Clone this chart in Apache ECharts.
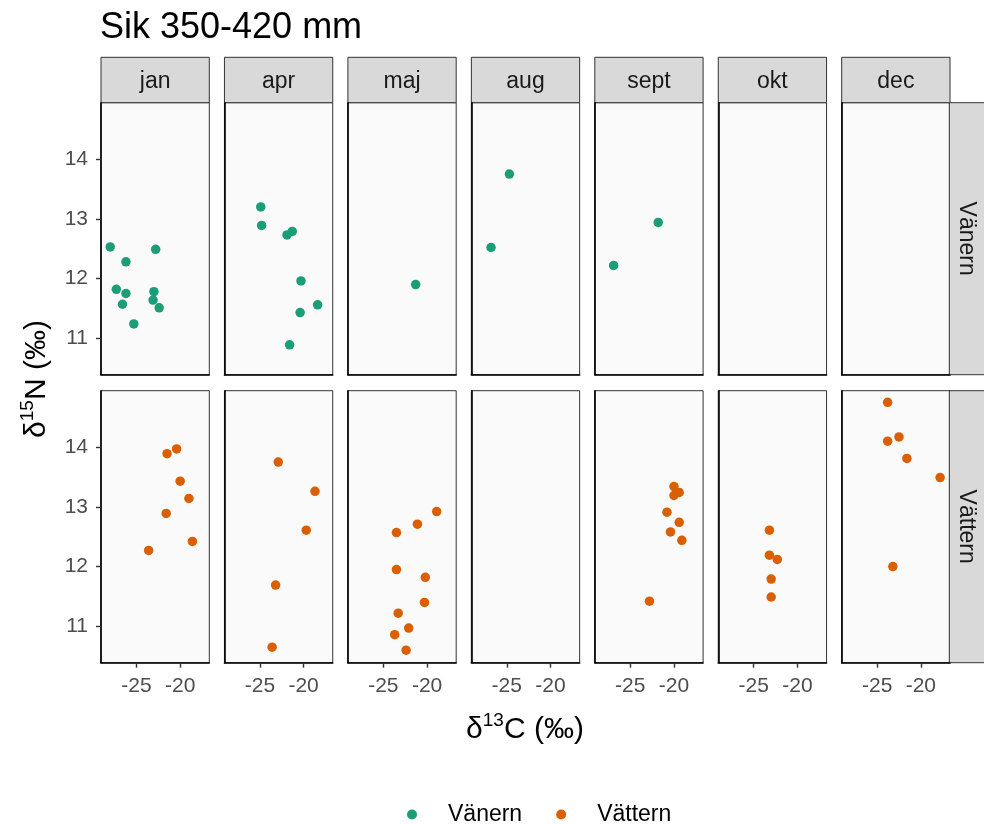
<!DOCTYPE html>
<html>
<head>
<meta charset="utf-8">
<script src="https://cdn.jsdelivr.net/npm/echarts@6/dist/echarts.min.js"></script>
<style>
html, body { margin: 0; padding: 0; background: #ffffff; }
#chart { width: 984px; height: 825px; }
</style>
</head>
<body>
<div id="chart"></div>
<script>
// Facet labels
const months = ['jan', 'apr', 'maj', 'aug', 'sept', 'okt', 'dec'];
const lakes = ['Vänern', 'Vättern'];
const lakeColors = ['#1B9E77', '#D95F02'];

// Tick labels
const xTicks = [-25, -20];
const yTicks = [11, 12, 13, 14];

// Axis ranges (δ13C, δ15N)
const xRange = [-29.05, -16.67];
const yRange = [10.39, 14.945];

// Vänern: [δ13C, δ15N]
const vanernJan = [[-28.0, 12.53], [-26.2, 12.28], [-27.3, 11.82], [-26.2, 11.75], [-26.6, 11.57],
  [-25.3, 11.24], [-22.8, 12.49], [-23.0, 11.78], [-23.1, 11.64], [-22.4, 11.51]];
const vanernApr = [[-24.9, 13.20], [-24.8, 12.89], [-21.9, 12.73], [-21.3, 12.79], [-20.3, 11.96],
  [-18.4, 11.56], [-20.4, 11.43], [-21.6, 10.89]];
const vanernMaj = [[-21.3, 11.90]];
const vanernAug = [[-24.7, 13.75], [-26.8, 12.52]];
const vanernSept = [[-26.9, 12.22], [-21.8, 12.94]];
const vanernOkt = [];
const vanernDec = [];

// Vättern: [δ13C, δ15N]
const vatternJan = [[-21.5, 13.89], [-20.4, 13.97], [-20.0, 13.43], [-19.0, 13.14], [-21.6, 12.89],
  [-18.6, 12.42], [-23.6, 12.27]];
const vatternApr = [[-22.9, 13.75], [-18.7, 13.26], [-19.7, 12.61], [-23.2, 11.69], [-23.6, 10.65]];
const vatternMaj = [[-18.9, 12.92], [-21.1, 12.71], [-23.5, 12.57], [-23.5, 11.95], [-20.2, 11.82],
  [-20.3, 11.40], [-23.3, 11.22], [-22.1, 10.97], [-23.7, 10.86], [-22.4, 10.60]];
const vatternAug = [];
const vatternSept = [[-20.0, 13.34], [-20.0, 13.19], [-19.4, 13.24], [-20.8, 12.91], [-19.4, 12.74],
  [-20.4, 12.58], [-19.1, 12.44], [-22.8, 11.42]];
const vatternOkt = [[-23.2, 12.61], [-23.2, 12.19], [-22.3, 12.12], [-23.0, 11.79], [-23.0, 11.49]];
const vatternDec = [[-23.8, 14.75], [-23.8, 14.10], [-22.5, 14.17], [-21.6, 13.81], [-17.8, 13.49],
  [-23.2, 12.00]];

const lakeData = [
  [vanernJan, vanernApr, vanernMaj, vanernAug, vanernSept, vanernOkt, vanernDec],
  [vatternJan, vatternApr, vatternMaj, vatternAug, vatternSept, vatternOkt, vatternDec]
];

// Panel layout
const FONT = '"Liberation Sans", Arial, sans-serif';
const panelLeft0 = 101, panelStep = 123.45, panelW = 108.3;
const rowTops = [102.7, 390.7], panelH = 272;
const stripTop = 57.3, stripH = 102.7 - 57.3;
const rightStripX = 949.3, rightStripW = 36;

const grids = [], xAxes = [], yAxes = [], series = [], graphics = [];

lakes.forEach((lake, r) => {
  months.forEach((m, c) => {
    const k = r * months.length + c;
    const left = panelLeft0 + c * panelStep;
    grids.push({
      left: left, top: rowTops[r], width: panelW, height: panelH,
      show: true, backgroundColor: '#FAFAFA', borderColor: '#333333', borderWidth: 1
    });
    xAxes.push({
      gridIndex: k, type: 'value', min: xRange[0], max: xRange[1],
      splitLine: { show: false },
      axisLine: { show: true, onZero: false, lineStyle: { color: '#000000', width: 1.6 } },
      axisTick: { show: r === 1, customValues: xTicks, length: 5, lineStyle: { color: '#333333', width: 1.4 } },
      axisLabel: { show: r === 1, customValues: xTicks, color: '#4D4D4D', fontSize: 21, fontFamily: FONT, margin: 13 }
    });
    yAxes.push({
      gridIndex: k, type: 'value', min: yRange[0], max: yRange[1],
      splitLine: { show: false },
      axisLine: { show: true, onZero: false, lineStyle: { color: '#000000', width: 1.6 } },
      axisTick: { show: c === 0, customValues: yTicks, length: 5, lineStyle: { color: '#333333', width: 1.4 } },
      axisLabel: { show: c === 0, customValues: yTicks, color: '#4D4D4D', fontSize: 21, fontFamily: FONT, margin: 13 }
    });
    series.push({
      type: 'scatter', name: lake, xAxisIndex: k, yAxisIndex: k,
      data: lakeData[r][c], symbol: 'circle', symbolSize: 9.5,
      itemStyle: { color: lakeColors[r], opacity: 1 }, silent: true
    });
  });
});

// Column strips
months.forEach((m, c) => {
  const left = panelLeft0 + c * panelStep;
  graphics.push({
    type: 'rect', shape: { x: left, y: stripTop, width: panelW, height: stripH },
    style: { fill: '#D9D9D9', stroke: '#333333', lineWidth: 1 }, silent: true
  });
  graphics.push({
    type: 'text', x: left + panelW / 2, y: stripTop + stripH / 2 + 2,
    style: { text: m, fill: '#1A1A1A', font: '23px ' + FONT, align: 'center', verticalAlign: 'middle' },
    silent: true
  });
});

// Row strips
lakes.forEach((lake, r) => {
  graphics.push({
    type: 'rect', shape: { x: rightStripX, y: rowTops[r], width: rightStripW, height: panelH },
    style: { fill: '#D9D9D9', stroke: '#333333', lineWidth: 1 }, silent: true
  });
  graphics.push({
    type: 'text', x: rightStripX + 17, y: rowTops[r] + panelH / 2, rotation: -Math.PI / 2,
    style: { text: lake, fill: '#1A1A1A', font: '23px ' + FONT, align: 'center', verticalAlign: 'middle' },
    silent: true
  });
});

// Axis titles
const titleRich = {
  n: { fontSize: 30, fontFamily: FONT, fill: '#000000', color: '#000000', lineHeight: 34, verticalAlign: 'bottom' },
  s: { fontSize: 19, fontFamily: FONT, fill: '#000000', color: '#000000', lineHeight: 34, verticalAlign: 'top' }
};
graphics.push({
  type: 'text', x: 525, y: 728,
  style: { text: '{n|δ}{s|13}{n|C (‰)}', rich: titleRich, align: 'center', verticalAlign: 'middle' },
  silent: true
});
graphics.push({
  type: 'text', x: 35, y: 379, rotation: Math.PI / 2,
  style: { text: '{n|δ}{s|15}{n|N (‰)}', rich: titleRich, align: 'center', verticalAlign: 'middle' },
  silent: true
});

const chart = echarts.init(document.getElementById('chart'), null, { renderer: 'canvas' });
chart.setOption({
  animation: false,
  backgroundColor: '#ffffff',
  title: {
    text: 'Sik 350-420 mm', left: 95, top: 5,
    textStyle: { fontSize: 36, fontWeight: 'normal', color: '#000000', fontFamily: FONT }
  },
  legend: {
    data: lakes.map((l, i) => ({ name: l, icon: 'circle', itemStyle: { color: lakeColors[i] } })),
    left: 402, top: 798, itemWidth: 10, itemHeight: 10, itemGap: 34,
    textStyle: { fontSize: 23, color: '#000000', fontFamily: FONT, padding: [0, 0, 0, 26] }
  },
  grid: grids,
  xAxis: xAxes,
  yAxis: yAxes,
  series: series,
  graphic: graphics
});
</script>
</body>
</html>
